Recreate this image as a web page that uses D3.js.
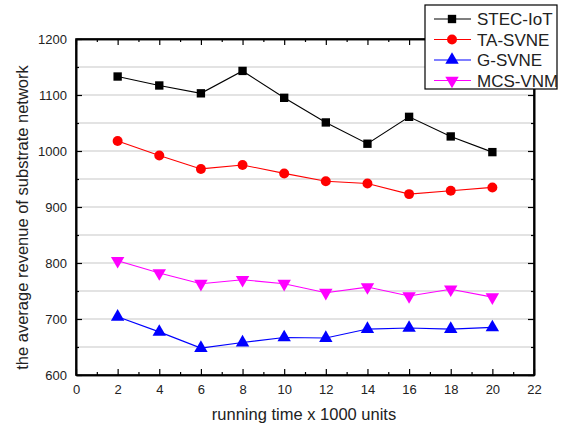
<!DOCTYPE html>
<html>
<head>
<meta charset="utf-8">
<script src="https://cdn.jsdelivr.net/npm/d3@7"></script>
<style>
body { margin: 0; background: #fff; }
text { font-family: "Liberation Sans", Arial, sans-serif; fill: #222; }
</style>
</head>
<body>
<div id="chart"></div>
<script>
// running time (x 1000 units)
var times = [2, 4, 6, 8, 10, 12, 14, 16, 18, 20]
var seriesNames = ["STEC-IoT", "TA-SVNE", "G-SVNE", "MCS-VNM"]
var stecIoT = [1133, 1117, 1103, 1143, 1095, 1051, 1013, 1061, 1026, 998]
var taSvne  = [1018, 992, 968, 975, 960, 946, 942, 923, 929, 935]
var gSvne   = [704, 677, 648, 658, 667, 666, 682, 684, 682, 685]
var mcsVnm  = [804, 782, 763, 770, 763, 747, 757, 741, 753, 739]
var xTicks = [0, 2, 4, 6, 8, 10, 12, 14, 16, 18, 20, 22]
var yTicks = [600, 700, 800, 900, 1000, 1100, 1200]

var colors = ["#000000", "#ff0000", "#0000ff", "#ff00ff"]
var shapes = [d3.symbolSquare, d3.symbolCircle, d3.symbolTriangle, d3.symbolTriangle]
var allSeries = [stecIoT, taSvne, gSvne, mcsVnm]

var W = 562, H = 427
var pl = 76, pr = 534, pt = 39, pb = 375

var svg = d3.select("#chart").append("svg")
    .attr("width", W)
    .attr("height", H)

var x = d3.scaleLinear().domain([0, 22]).range([pl, pr])
var y = d3.scaleLinear().domain([600, 1200]).range([pb, pt])

// grid lines every 50
svg.append("g").selectAll("line")
    .data(d3.range(650, 1200, 50))
    .enter().append("line")
        .attr("x1", pl).attr("x2", pr)
        .attr("y1", function(d){ return y(d) }).attr("y2", function(d){ return y(d) })
        .attr("stroke", "#c8c8c8")
        .attr("stroke-width", 1.2)

// axes with inward ticks
var minorX = d3.range(1, 22, 2)
var minorY = d3.range(650, 1200, 100)

svg.append("g").attr("transform", "translate(0," + pb + ")")
    .call(d3.axisBottom(x).tickValues(xTicks).tickSizeInner(-6).tickSizeOuter(0).tickPadding(10))
svg.append("g").attr("transform", "translate(0," + pb + ")")
    .call(d3.axisBottom(x).tickValues(minorX).tickSizeInner(-3).tickSizeOuter(0).tickFormat(""))
svg.append("g").attr("transform", "translate(0," + pt + ")")
    .call(d3.axisTop(x).tickValues(xTicks).tickSizeInner(-6).tickSizeOuter(0).tickFormat(""))
svg.append("g").attr("transform", "translate(0," + pt + ")")
    .call(d3.axisTop(x).tickValues(minorX).tickSizeInner(-3).tickSizeOuter(0).tickFormat(""))

svg.append("g").attr("transform", "translate(" + pl + ",0)")
    .call(d3.axisLeft(y).tickValues(yTicks).tickFormat(d3.format("d")).tickSizeInner(-6).tickSizeOuter(0).tickPadding(9))
svg.append("g").attr("transform", "translate(" + pl + ",0)")
    .call(d3.axisLeft(y).tickValues(minorY).tickSizeInner(-3).tickSizeOuter(0).tickFormat(""))
svg.append("g").attr("transform", "translate(" + pr + ",0)")
    .call(d3.axisRight(y).tickValues(yTicks).tickSizeInner(-6).tickSizeOuter(0).tickFormat(""))
svg.append("g").attr("transform", "translate(" + pr + ",0)")
    .call(d3.axisRight(y).tickValues(minorY).tickSizeInner(-3).tickSizeOuter(0).tickFormat(""))

svg.selectAll(".domain").attr("stroke", "#000").attr("stroke-width", 1.6)
svg.selectAll(".tick line").attr("stroke", "#000").attr("stroke-width", 1.2)
svg.selectAll(".tick text")
    .style("font-family", "Liberation Sans, Arial, sans-serif")
    .style("font-size", "13px")
    .attr("fill", "#222")

// plot frame
svg.append("rect")
    .attr("x", pl).attr("y", pt)
    .attr("width", pr - pl).attr("height", pb - pt)
    .attr("fill", "none")
    .attr("stroke", "#000")
    .attr("stroke-width", 1.6)

// lines and markers
var line = d3.line()
    .x(function(d, i){ return x(times[i]) })
    .y(function(d){ return y(d) })

function markerPath(k) {
    var sizes = [70, 78, 78, 78]
    return d3.symbol().type(shapes[k]).size(sizes[k])()
}

allSeries.forEach(function(vals, k){
    svg.append("path")
        .datum(vals)
        .attr("d", line)
        .attr("fill", "none")
        .attr("stroke", colors[k])
        .attr("stroke-width", 1.1)
    svg.append("g").selectAll("path")
        .data(vals)
        .enter().append("path")
            .attr("d", markerPath(k))
            .attr("transform", function(d, i){
                var r = k == 3 ? " rotate(180)" : ""
                return "translate(" + x(times[i]) + "," + y(d) + ")" + r
            })
            .attr("fill", colors[k])
})

// axis titles
svg.append("text")
    .attr("x", (pl + pr) / 2 - 1)
    .attr("y", 420)
    .attr("text-anchor", "middle")
    .style("font-size", "16.5px")
    .text("running time x 1000 units")

svg.append("text")
    .attr("transform", "translate(28,217.5) rotate(-90)")
    .attr("text-anchor", "middle")
    .style("font-size", "16.5px")
    .text("the average revenue of substrate network")

// legend
var legend = svg.append("g").attr("transform", "translate(425,5)")
legend.append("rect")
    .attr("width", 132).attr("height", 84)
    .attr("fill", "#fff")
    .attr("stroke", "#000")
    .attr("stroke-width", 1.2)

seriesNames.forEach(function(name, k){
    var ly = 14 + k * 20.5
    legend.append("line")
        .attr("x1", 9).attr("x2", 46)
        .attr("y1", ly).attr("y2", ly)
        .attr("stroke", colors[k])
        .attr("stroke-width", 1.1)
    legend.append("path")
        .attr("d", markerPath(k))
        .attr("transform", "translate(27," + ly + ")" + (k == 3 ? " rotate(180)" : ""))
        .attr("fill", colors[k])
    legend.append("text")
        .attr("x", 52)
        .attr("y", ly + 6)
        .style("font-size", "17px")
        .attr("fill", "#111")
        .text(name)
})
</script>
</body>
</html>
